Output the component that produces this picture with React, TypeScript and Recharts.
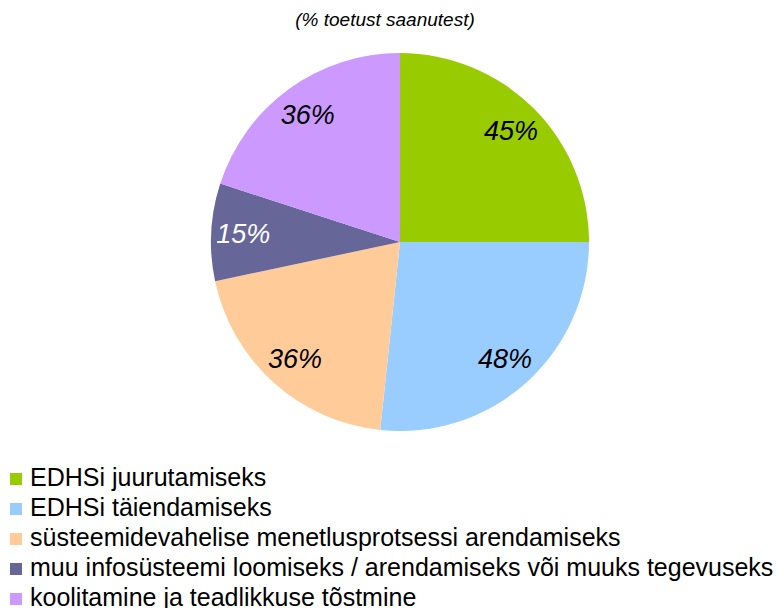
import React from 'react';
import { PieChart, Pie, Cell, Legend } from 'recharts';

const categories = [
  'EDHSi juurutamiseks',
  'EDHSi täiendamiseks',
  'süsteemidevahelise menetlusprotsessi arendamiseks',
  'muu infosüsteemi loomiseks / arendamiseks või muuks tegevuseks',
  'koolitamine ja teadlikkuse tõstmine',
];
const shares = [45, 48, 36, 15, 36];
const colors = ['#99CC00', '#99CCFF', '#FFCC99', '#666699', '#CC99FF'];
const labelColors = ['#000000', '#000000', '#000000', '#FFFFFF', '#000000'];

const data = categories.map((name, i) => ({ name, value: shares[i] }));

const RAD = Math.PI / 180;

const renderLabel = (props: any) => {
  const { cx, cy, midAngle, index, value } = props;
  const r = 157;
  const x = cx + r * Math.cos(-midAngle * RAD);
  const y = cy + r * Math.sin(-midAngle * RAD);
  return (
    <text
      x={x}
      y={y}
      fill={labelColors[index]}
      textAnchor="middle"
      dominantBaseline="central"
      fontSize={27}
      fontStyle="italic"
      fontFamily="Liberation Sans, Arial, sans-serif"
    >
      {`${value}%`}
    </text>
  );
};

const renderLegend = () => (
  <div>
    {categories.map((name, i) => (
      <div key={name} style={{ display: 'flex', alignItems: 'center', height: 30, fontSize: 25, color: '#000', whiteSpace: 'nowrap' }}>
        <span style={{ display: 'inline-block', width: 12, height: 12, background: colors[i], marginRight: 8, marginTop: 4 }} />
        <span>{name}</span>
      </div>
    ))}
  </div>
);

export default function App() {
  return (
    <div style={{ position: 'absolute', left: 0, top: 0, width: 776, height: 608, background: '#fff', fontFamily: 'Liberation Sans, Arial, sans-serif' }}>
      <div style={{ position: 'absolute', left: 0, top: 8, width: 770, textAlign: 'center', fontSize: 19, lineHeight: '24px', fontStyle: 'italic' }}>
        (% toetust saanutest)
      </div>
      <PieChart width={776} height={608} margin={{ top: 0, right: 0, bottom: 0, left: 0 }}>
        <Pie
          data={data}
          dataKey="value"
          nameKey="name"
          cx={400}
          cy={242}
          outerRadius={189}
          startAngle={90}
          endAngle={-270}
          stroke="none"
          label={renderLabel}
          labelLine={false}
          isAnimationActive={false}
        >
          {data.map((d, i) => (
            <Cell key={d.name} fill={colors[i]} />
          ))}
        </Pie>
        <Legend
          layout="horizontal"
          verticalAlign="bottom"
          align="left"
          content={renderLegend}
          wrapperStyle={{ top: 462, bottom: 'auto', left: 10, width: 766 }}
        />
      </PieChart>
    </div>
  );
}
